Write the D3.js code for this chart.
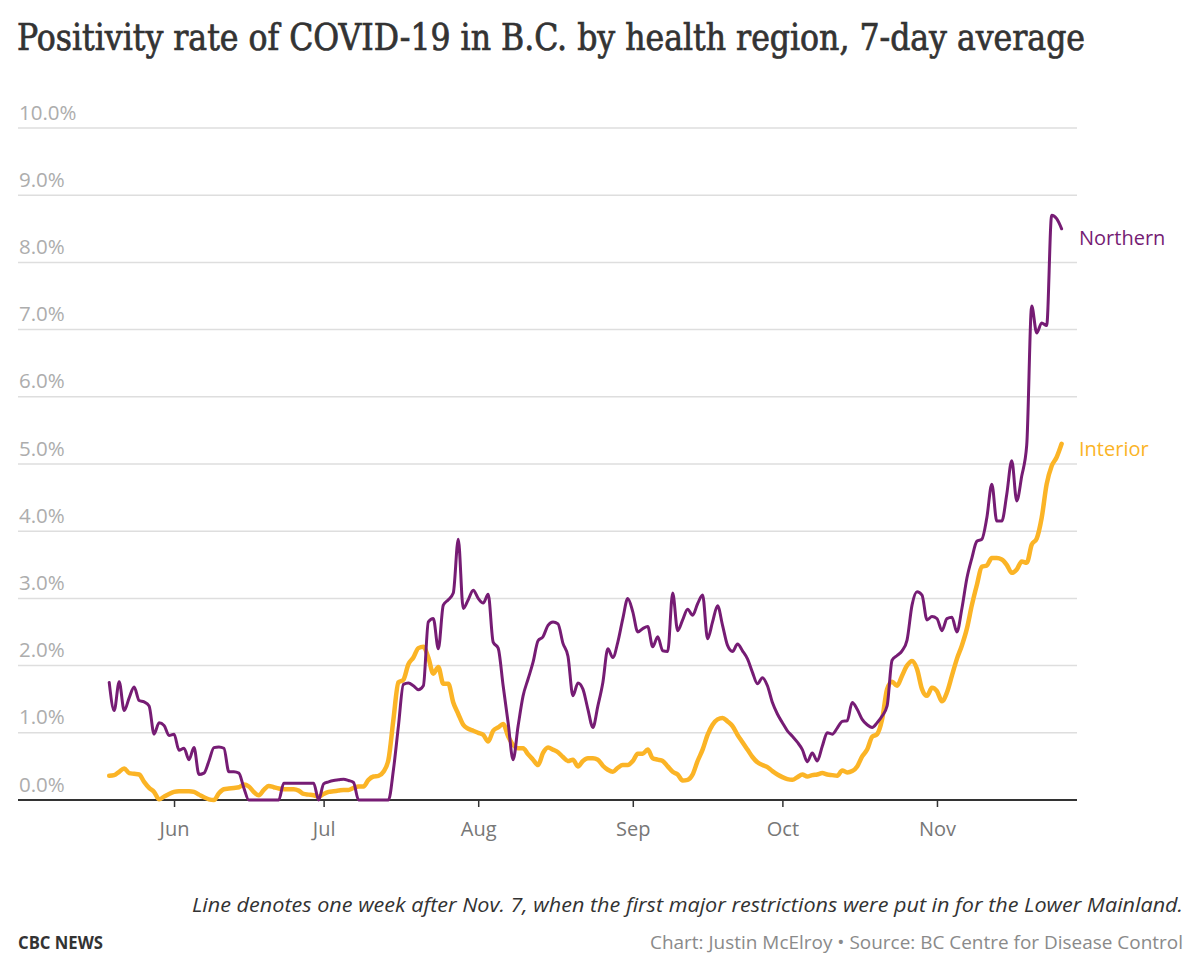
<!DOCTYPE html>
<html>
<head>
<meta charset="utf-8">
<title>Positivity rate of COVID-19 in B.C. by health region</title>
<script src="https://cdn.jsdelivr.net/npm/d3@7"></script>
<style>
  body { margin: 0; background: #fff; }
  svg { display: block; }
</style>
</head>
<body>
<svg id="chart" width="1200" height="977"></svg>
<script>
// daily 7-day average positivity (%), one value per day starting May 19, 2020
const startDate = new Date(2020, 4, 19);

const northern = [
  1.75, 1.33, 1.76, 1.33, 1.52, 1.68, 1.48, 1.46, 1.40, 0.98,
  1.15, 1.11, 0.96, 0.98, 0.74, 0.77, 0.60, 0.78, 0.38, 0.40,
  0.58, 0.78, 0.79, 0.77, 0.42, 0.42, 0.40, 0.18, 0.00, 0.00,
  0.00, 0.00, 0.00, 0.00, 0.00, 0.25, 0.25, 0.25, 0.25, 0.25,
  0.25, 0.25, 0.00, 0.24, 0.27, 0.29, 0.30, 0.31, 0.29, 0.26,
  0.00, 0.00, 0.00, 0.00, 0.00, 0.00, 0.00, 0.45, 1.10, 1.72,
  1.74, 1.70, 1.64, 1.70, 2.65, 2.70, 2.25, 2.90, 2.98, 3.08,
  3.88, 2.85, 2.98, 3.12, 3.00, 2.93, 3.06, 2.35, 2.26, 1.70,
  1.15, 0.60, 1.10, 1.55, 1.80, 2.05, 2.37, 2.43, 2.60, 2.65,
  2.62, 2.33, 2.14, 1.55, 1.74, 1.65, 1.35, 1.08, 1.40, 1.75,
  2.25, 2.12, 2.35, 2.70, 3.00, 2.80, 2.50, 2.55, 2.58, 2.28,
  2.43, 2.22, 2.21, 3.08, 2.52, 2.68, 2.84, 2.75, 2.92, 3.05,
  2.40, 2.65, 2.89, 2.60, 2.30, 2.21, 2.32, 2.22, 2.10, 1.90,
  1.73, 1.82, 1.70, 1.45, 1.28, 1.15, 1.03, 0.95, 0.86, 0.75,
  0.57, 0.70, 0.58, 0.80, 1.00, 0.98, 1.07, 1.17, 1.18, 1.45,
  1.35, 1.20, 1.12, 1.08, 1.15, 1.25, 1.40, 2.08, 2.15, 2.22,
  2.38, 2.90, 3.10, 3.05, 2.68, 2.73, 2.70, 2.52, 2.70, 2.72,
  2.50, 2.85, 3.30, 3.60, 3.85, 3.88, 4.20, 4.70, 4.15, 4.15,
  4.55, 5.05, 4.45, 4.82, 5.28, 7.35, 6.95, 7.10, 7.06, 8.70,
  8.65, 8.50
];

const interior = [
  0.36, 0.37, 0.42, 0.47, 0.40, 0.39, 0.38, 0.27, 0.18, 0.12,
  0.01, 0.05, 0.09, 0.12, 0.13, 0.13, 0.13, 0.12, 0.08, 0.04,
  0.01, 0.00, 0.10, 0.16, 0.17, 0.18, 0.19, 0.23, 0.20, 0.12,
  0.07, 0.15, 0.21, 0.19, 0.17, 0.16, 0.16, 0.16, 0.14, 0.09,
  0.08, 0.07, 0.05, 0.09, 0.12, 0.13, 0.14, 0.15, 0.15, 0.18,
  0.20, 0.20, 0.30, 0.35, 0.36, 0.42, 0.60, 1.20, 1.75, 1.79,
  2.02, 2.12, 2.26, 2.28, 2.12, 1.88, 1.98, 1.73, 1.73, 1.45,
  1.28, 1.12, 1.06, 1.03, 1.00, 0.97, 0.87, 1.03, 1.08, 1.13,
  0.95, 0.82, 0.77, 0.77, 0.68, 0.60, 0.52, 0.70, 0.78, 0.75,
  0.71, 0.64, 0.58, 0.60, 0.50, 0.58, 0.62, 0.62, 0.60, 0.51,
  0.45, 0.42, 0.48, 0.52, 0.52, 0.58, 0.69, 0.69, 0.75, 0.62,
  0.60, 0.58, 0.50, 0.42, 0.38, 0.29, 0.30, 0.38, 0.58, 0.75,
  0.97, 1.12, 1.20, 1.22, 1.17, 1.10, 0.97, 0.86, 0.75, 0.64,
  0.56, 0.52, 0.49, 0.43, 0.38, 0.34, 0.31, 0.30, 0.34, 0.38,
  0.35, 0.37, 0.38, 0.40, 0.38, 0.37, 0.36, 0.44, 0.41, 0.43,
  0.50, 0.65, 0.75, 0.94, 0.98, 1.20, 1.65, 1.76, 1.70, 1.85,
  2.00, 2.07, 1.95, 1.65, 1.55, 1.67, 1.62, 1.47, 1.60, 1.85,
  2.10, 2.30, 2.55, 2.90, 3.20, 3.47, 3.49, 3.60, 3.60, 3.58,
  3.50, 3.38, 3.43, 3.55, 3.53, 3.80, 3.89, 4.20, 4.70, 4.97,
  5.10, 5.30
];

const yTicks = [0, 1, 2, 3, 4, 5, 6, 7, 8, 9, 10];
const monthTicks = [
  new Date(2020, 5, 1), new Date(2020, 6, 1), new Date(2020, 7, 1),
  new Date(2020, 8, 1), new Date(2020, 9, 1), new Date(2020, 10, 1)
];

const series = [
  { name: "Interior", values: interior, color: "#fbb426", width: 4.5 },
  { name: "Northern", values: northern, color: "#761c74", width: 3 }
];

const svg = d3.select("#chart");

const x = d3.scaleTime()
  .domain([new Date(2020, 3, 30, 17), new Date(2020, 10, 29, 2)])
  .range([18, 1077]);

const y = d3.scaleLinear()
  .domain([0, 10])
  .range([800, 128]);

// title (condensed slab-ish serif, thickened a little with a stroke)
svg.append("text")
  .attr("x", 17)
  .attr("y", 50)
  .attr("textLength", 1068)
  .attr("lengthAdjust", "spacingAndGlyphs")
  .style("font-family", "'DejaVu Serif Condensed', 'DejaVu Serif', serif")
  .style("font-stretch", "condensed")
  .style("font-size", "37px")
  .style("fill", "#333")
  .style("stroke", "#333")
  .style("stroke-width", 0.7)
  .text("Positivity rate of COVID-19 in B.C. by health region, 7-day average");

// gridlines + y labels
const grid = svg.append("g");
grid.selectAll("line")
  .data(yTicks.filter(d => d > 0))
  .join("line")
  .attr("x1", 18)
  .attr("x2", 1077)
  .attr("y1", d => y(d))
  .attr("y2", d => y(d))
  .attr("stroke", "#dedede")
  .attr("stroke-width", 1.5);

grid.selectAll("text")
  .data(yTicks)
  .join("text")
  .attr("x", 19)
  .attr("y", d => y(d) - 8.5)
  .style("font-family", "'Open Sans', sans-serif")
  .style("font-size", "20.5px")
  .style("fill", "#adadad")
  .text(d => d3.format(".1f")(d) + "%");

// x axis
const xAxis = d3.axisBottom(x)
  .tickValues(monthTicks)
  .tickFormat(d3.timeFormat("%b"))
  .tickSize(7)
  .tickPadding(15);

const gx = svg.append("g")
  .attr("transform", "translate(0,800)")
  .call(xAxis);

gx.select(".domain")
  .attr("d", "M18,0H1077")
  .attr("stroke", "#333")
  .attr("stroke-width", 2);
gx.selectAll(".tick line").attr("stroke", "#333").attr("stroke-width", 1.5);
gx.selectAll(".tick text")
  .style("font-family", "'Open Sans', sans-serif")
  .style("font-size", "20px")
  .style("fill", "#777");

// lines
const line = d3.line()
  .x((d, i) => x(d3.timeDay.offset(startDate, i)))
  .y(d => y(d))
  .curve(d3.curveMonotoneX);

svg.append("g")
  .selectAll("path")
  .data(series)
  .join("path")
  .attr("d", s => line(s.values))
  .attr("fill", "none")
  .attr("stroke", s => s.color)
  .attr("stroke-width", s => s.width)
  .attr("stroke-linejoin", "round")
  .attr("stroke-linecap", "round");

// end labels
svg.append("g")
  .selectAll("text")
  .data(series)
  .join("text")
  .attr("x", 1079)
  .attr("y", s => s.name === "Northern" ? 245 : 456)
  .style("font-family", "'Open Sans', sans-serif")
  .style("font-size", "20px")
  .style("fill", s => s.color)
  .text(s => s.name);

// footer
svg.append("text")
  .attr("x", 1183)
  .attr("y", 912)
  .attr("text-anchor", "end")
  .attr("textLength", 991)
  .attr("lengthAdjust", "spacingAndGlyphs")
  .style("font-family", "'Open Sans', sans-serif")
  .style("font-style", "italic")
  .style("font-size", "20px")
  .style("fill", "#333")
  .text("Line denotes one week after Nov. 7, when the first major restrictions were put in for the Lower Mainland.");

svg.append("text")
  .attr("x", 18)
  .attr("y", 949)
  .attr("textLength", 85)
  .attr("lengthAdjust", "spacingAndGlyphs")
  .style("font-family", "'Open Sans', sans-serif")
  .style("font-weight", "bold")
  .style("font-size", "17px")
  .style("fill", "#333")
  .text("CBC NEWS");

svg.append("text")
  .attr("x", 1183)
  .attr("y", 949)
  .attr("text-anchor", "end")
  .attr("textLength", 533)
  .attr("lengthAdjust", "spacingAndGlyphs")
  .style("font-family", "'Open Sans', sans-serif")
  .style("font-size", "19px")
  .style("fill", "#8a8a8a")
  .text("Chart: Justin McElroy \u2022 Source: BC Centre for Disease Control");
</script>
</body>
</html>
